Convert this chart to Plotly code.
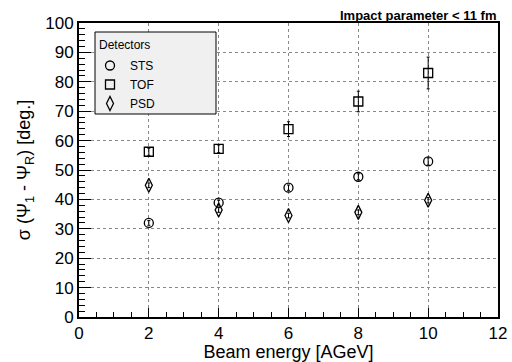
import plotly.graph_objects as go

energy = [2, 4, 6, 8, 10]
sts = [32.0, 38.9, 44.0, 47.7, 52.9]
sts_err = [0.8, 0.8, 0.9, 1.0, 1.2]
tof = [56.2, 57.2, 63.9, 73.3, 83.0]
tof_err = [1.2, 1.3, 2.5, 3.5, 5.4]
psd = [44.8, 36.4, 34.5, 35.6, 39.7]
psd_err = [0.8, 0.8, 0.8, 0.8, 0.9]

series = [
    ("STS", sts, sts_err, "circle-open", 9),
    ("TOF", tof, tof_err, "square-open", 9),
    ("PSD", psd, psd_err, "diamond-tall-open", 10),
]

fig = go.Figure()
for name, vals, errs, sym, sz in series:
    fig.add_trace(go.Scatter(
        x=energy, y=vals, name=name, mode="markers",
        marker=dict(symbol=sym, size=sz, color="black", line=dict(width=1.3, color="black")),
        error_y=dict(type="data", array=errs, color="black", thickness=1, width=1.5),
    ))

font = "Liberation Sans, Arial, sans-serif"
axis_common = dict(
    showline=True, linecolor="black", linewidth=2, mirror=True,
    ticks="inside", tickcolor="black", tickwidth=1,
    showgrid=True, gridcolor="#888888", griddash="dot", gridwidth=1,
    zeroline=False, tickfont=dict(family=font, size=17, color="black"),
    automargin=False,
)
fig.update_xaxes(range=[0, 12], dtick=2, ticklen=9,
                 minor=dict(dtick=0.5, ticks="inside", ticklen=5, tickcolor="black", showgrid=False),
                 title=dict(text="Beam energy [AGeV]", font=dict(family=font, size=18, color="black"), standoff=2),
                 **axis_common)
fig.update_yaxes(range=[0, 100], dtick=10, ticklen=12,
                 minor=dict(dtick=2, ticks="inside", ticklen=6, tickcolor="black", showgrid=False),
                 title=dict(text="σ (Ψ<sub>1</sub> - Ψ<sub>R</sub>) [deg.]", font=dict(family=font, size=18, color="black"), standoff=10),
                 **axis_common)

fig.add_shape(type="rect", xref="paper", yref="paper",
              x0=(95 - 79) / 419, x1=(216 - 79) / 419,
              y0=(317 - 114) / 294, y1=(317 - 32) / 294,
              fillcolor="#f0f0f0", line=dict(color="black", width=1), layer="above")

fig.add_annotation(text="Detectors", xref="paper", yref="paper",
                   x=(97 - 79) / 419, y=(317 - 45) / 294, xanchor="left", yanchor="middle",
                   showarrow=False, font=dict(family=font, size=12, color="black"))

fig.add_annotation(text="<b>Impact parameter < 11 fm</b>", xref="paper", yref="paper",
                   x=1.0, y=1.0, xanchor="right", yanchor="bottom", yshift=-2, showarrow=False,
                   font=dict(family=font, size=13, color="black"))

fig.update_layout(
    width=512, height=362,
    margin=dict(l=79, r=14, t=23, b=45),
    paper_bgcolor="white", plot_bgcolor="white",
    showlegend=True,
    legend=dict(font=dict(family=font, size=12, color="black"),
                bgcolor="rgba(0,0,0,0)", borderwidth=0,
                x=(90 - 79) / 419, y=(317 - 51) / 294, xanchor="left", yanchor="top",
                itemwidth=30, tracegroupgap=0),
)

fig.write_html("out.html", config={"displayModeBar": False})
with open("out.html", "r", encoding="utf-8") as f:
    html = f.read()
html = html.replace("<head>", "<head><style>html,body{margin:0;padding:0;overflow:hidden;}</style>", 1)
with open("out.html", "w", encoding="utf-8") as f:
    f.write(html)
